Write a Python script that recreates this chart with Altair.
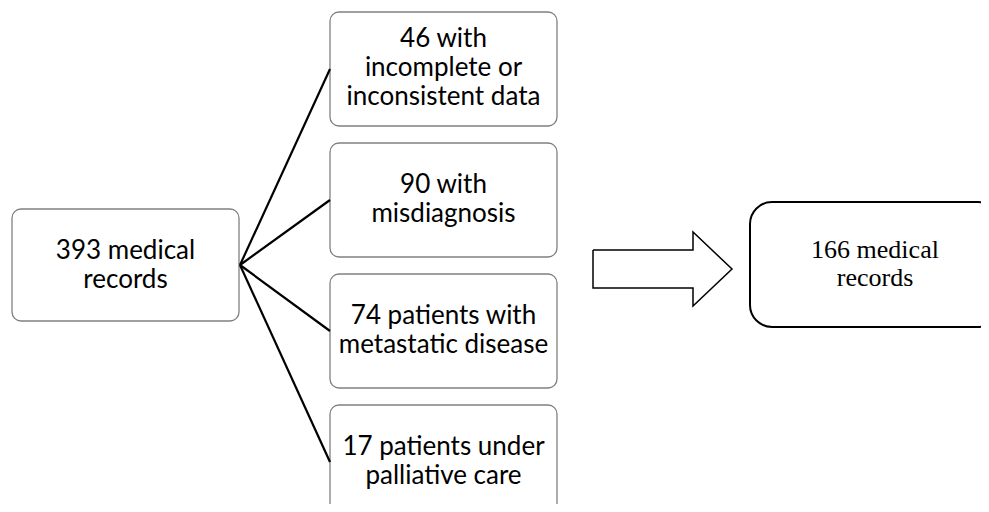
import altair as alt
import pandas as pd

# ---- content ----
start_label = ["393 medical", "records"]
excl_labels = [
    ["46 with", "incomplete or", "inconsistent data"],
    ["90 with", "misdiagnosis"],
    ["74 patients with", "metastatic disease"],
    ["17 patients under", "palliative care"],
]
final_label = ["166 medical", "records"]

# ---- layout (reference pixel coordinates) ----
start_box = [12, 239, 209, 321]          # x1, x2, y1, y2
excl_x = [330, 557]
excl_y_top = [12, 143, 274, 405]
excl_h = 114
final_box = [750, 1000, 202, 327]
fan_point = [240, 265]
arrow_x = [593, 693, 693, 732, 693, 693, 593, 593]
arrow_y = [250, 250, 232, 269, 306, 288, 288, 250]
LH = 29          # line height, sans text
LH_SERIF = 28

W, H = 973, 496
xs = alt.Scale(domain=[8, 8 + W], nice=False, zero=False)
ys = alt.Scale(domain=[8, 8 + H], nice=False, zero=False, reverse=True)

gray_boxes = pd.DataFrame(
    [dict(x1=start_box[0], x2=start_box[1], y1=start_box[2], y2=start_box[3])]
    + [dict(x1=excl_x[0], x2=excl_x[1], y1=t, y2=t + excl_h) for t in excl_y_top]
)
boxes = alt.Chart(gray_boxes).mark_rect(
    fill="white", stroke="#808080", strokeWidth=1.3, cornerRadius=9, clip=True
).encode(
    x=alt.X("x1:Q", scale=xs, axis=None), x2="x2:Q",
    y=alt.Y("y1:Q", scale=ys, axis=None), y2="y2:Q",
)

final_df = pd.DataFrame([dict(x1=final_box[0], x2=final_box[1], y1=final_box[2], y2=final_box[3])])
final = alt.Chart(final_df).mark_rect(
    fill="white", stroke="black", strokeWidth=2, cornerRadius=22, clip=True
).encode(
    x=alt.X("x1:Q", scale=xs, axis=None), x2="x2:Q",
    y=alt.Y("y1:Q", scale=ys, axis=None), y2="y2:Q",
)

lines_df = pd.DataFrame(
    [dict(x1=fan_point[0], y1=fan_point[1], x2=excl_x[0], y2=t + excl_h / 2) for t in excl_y_top]
)
lines = alt.Chart(lines_df).mark_rule(color="black", strokeWidth=2.2, clip=True).encode(
    x=alt.X("x1:Q", scale=xs, axis=None), x2="x2:Q",
    y=alt.Y("y1:Q", scale=ys, axis=None), y2="y2:Q",
)

arrow_df = pd.DataFrame(dict(x=arrow_x, y=arrow_y, o=list(range(len(arrow_x)))))
arrow = alt.Chart(arrow_df).mark_line(color="black", strokeWidth=1.5, strokeJoin="miter").encode(
    x=alt.X("x:Q", scale=xs, axis=None),
    y=alt.Y("y:Q", scale=ys, axis=None),
    order="o:O",
)


def block(cx, cy, lab, lh):
    return dict(x=cx, y=cy - (len(lab) - 1) / 2 * lh, t="\n".join(lab))


text_rows = [block((start_box[0] + start_box[1]) / 2, (start_box[2] + start_box[3]) / 2, start_label, LH)]
for t, lab in zip(excl_y_top, excl_labels):
    text_rows.append(block((excl_x[0] + excl_x[1]) / 2, t + excl_h / 2 - 1, lab, LH))
texts = alt.Chart(pd.DataFrame(text_rows)).mark_text(
    font="Lato", fontSize=26, lineHeight=LH, lineBreak="\n", color="black",
    align="center", baseline="middle", clip=True
).encode(
    x=alt.X("x:Q", scale=xs, axis=None),
    y=alt.Y("y:Q", scale=ys, axis=None),
    text="t:N",
)

final_text = alt.Chart(pd.DataFrame([block(875, 264, final_label, LH_SERIF)])).mark_text(
    font="Liberation Serif", fontSize=26, lineHeight=LH_SERIF, lineBreak="\n", color="black",
    align="center", baseline="middle"
).encode(
    x=alt.X("x:Q", scale=xs, axis=None),
    y=alt.Y("y:Q", scale=ys, axis=None),
    text="t:N",
)

chart = alt.layer(boxes, final, lines, arrow, texts, final_text).properties(
    width=W, height=H, padding=0,
    autosize=alt.AutoSizeParams(type="fit", contains="padding"),
).configure_view(stroke=None)

chart.save("out.html", embed_options={"renderer": "svg", "actions": False})
